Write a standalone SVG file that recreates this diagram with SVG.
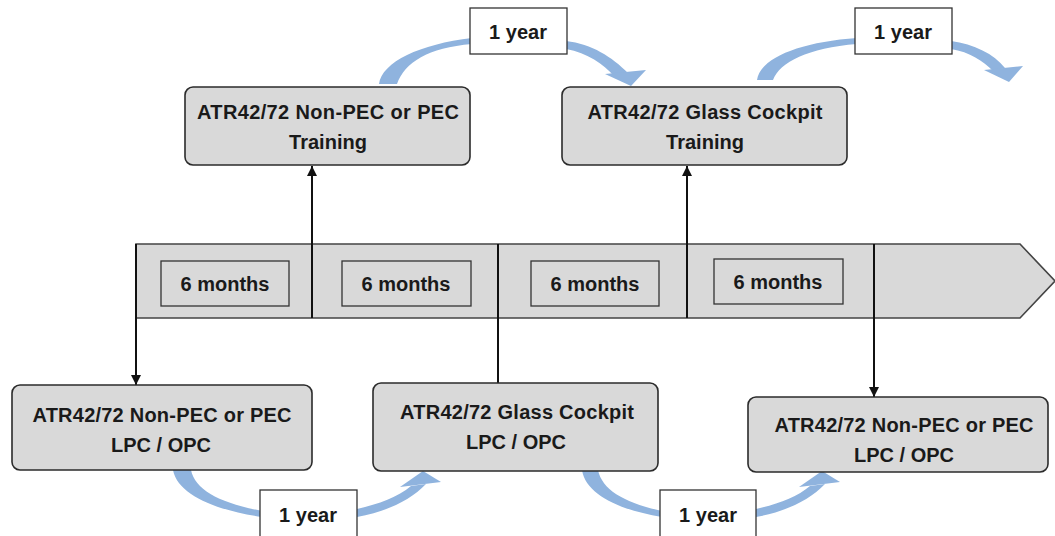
<svg xmlns="http://www.w3.org/2000/svg" width="1055" height="536" viewBox="0 0 1055 536">
<defs>
<style>
.t{font-family:"Liberation Sans",Arial,sans-serif;font-weight:bold;font-size:20px;fill:#1a1a1a;text-anchor:middle}
.node{fill:#d9d9d9;stroke:#2b2b2b;stroke-width:1.6}
.mo{fill:#d9d9d9;stroke:#333;stroke-width:1.3}
.yr{fill:#fff;stroke:#333;stroke-width:1.3}
.cv{fill:#8fb3de}
.ln{stroke:#111;stroke-width:2;fill:none}
</style>
<marker id="ah" viewBox="0 0 10 10" refX="10" refY="5" markerWidth="10" markerHeight="10" markerUnits="userSpaceOnUse" orient="auto">
<path d="M0,0 L10,5 L0,10 Z" fill="#111"/>
</marker>
</defs>
<rect width="1055" height="536" fill="#fff"/>

<g id="curved-arrows">
<path class="cv" d="M379,84 C382,62 420,44 472,38 L472,44 C428,48 405,62 397,84 Z"/>
<path class="cv" d="M566,41 C592,44 612,57 628,73 L614,76 C603,64 588,53 566,49 Z"/>
<polygon class="cv" points="605,74 646,70 631,86"/>
<path class="cv" d="M757,80 C760,58 800,42 857,38 L857,44 C808,48 780,62 773,80 Z"/>
<path class="cv" d="M951,41 C974,44 994,54 1005,68 L993,71 C983,61 970,52 951,49 Z"/>
<polygon class="cv" points="984,70 1023,66 1009,82"/>
<path class="cv" d="M173,470 C178,495 215,510 262,517 L262,511 C220,503 195,490 191,470 Z"/>
<path class="cv" d="M357,509 C379,504 398,497 411,486 L426,484 C410,501 385,512 357,517 Z"/>
<polygon class="cv" points="400,487 423,471 441,482"/>
<path class="cv" d="M582,470 C586,495 620,510 662,517 L662,511 C625,503 602,490 598,470 Z"/>
<path class="cv" d="M756,509 C778,504 797,497 810,486 L825,484 C809,501 784,512 756,517 Z"/>
<polygon class="cv" points="799,487 822,471 840,482"/>
</g>

<g id="timeline">
<path d="M136,244 H1020 L1055,281 L1020,318 H136 Z" fill="#d9d9d9" stroke="#444" stroke-width="1.6"/>
</g>

<g id="connectors">
<line class="ln" x1="312" y1="318" x2="312" y2="166" marker-end="url(#ah)"/>
<line class="ln" x1="687" y1="318" x2="687" y2="166" marker-end="url(#ah)"/>
<line class="ln" x1="136" y1="244" x2="136" y2="385" marker-end="url(#ah)"/>
<line class="ln" x1="874" y1="244" x2="874" y2="397" marker-end="url(#ah)"/>
<line class="ln" x1="498" y1="244" x2="498" y2="383"/>
</g>

<g id="m1"><rect class="mo" x="161" y="261" width="128" height="45"/><text class="t" x="225" y="291">6 months</text></g>
<g id="m2"><rect class="mo" x="342" y="261" width="129" height="45"/><text class="t" x="406" y="291">6 months</text></g>
<g id="m3"><rect class="mo" x="531" y="261" width="128" height="45"/><text class="t" x="595" y="291">6 months</text></g>
<g id="m4"><rect class="mo" x="714" y="259" width="129" height="45"/><text class="t" x="778" y="289">6 months</text></g>

<g id="train1"><rect class="node" x="185" y="87" width="285" height="78" rx="8"/>
<text class="t" x="328" y="119" textLength="262">ATR42/72 Non-PEC or PEC</text>
<text class="t" x="328" y="149">Training</text></g>
<g id="train2"><rect class="node" x="562" y="87" width="285" height="78" rx="8"/>
<text class="t" x="705" y="119" textLength="235">ATR42/72 Glass Cockpit</text>
<text class="t" x="705" y="149">Training</text></g>

<g id="lpc1"><rect class="node" x="12" y="385" width="300" height="85" rx="8"/>
<text class="t" x="162" y="422" textLength="259">ATR42/72 Non-PEC or PEC</text>
<text class="t" x="161" y="452">LPC / OPC</text></g>
<g id="lpc2"><rect class="node" x="373" y="383" width="285" height="88" rx="8"/>
<text class="t" x="517" y="419" textLength="234">ATR42/72 Glass Cockpit</text>
<text class="t" x="516" y="449">LPC / OPC</text></g>
<g id="lpc3"><rect class="node" x="748" y="397" width="300" height="75" rx="8"/>
<text class="t" x="904" y="432" textLength="259">ATR42/72 Non-PEC or PEC</text>
<text class="t" x="904" y="462">LPC / OPC</text></g>

<g id="y1"><rect class="yr" x="470" y="8" width="97" height="46"/><text class="t" x="518" y="39">1 year</text></g>
<g id="y2"><rect class="yr" x="855" y="8" width="97" height="46"/><text class="t" x="903" y="39">1 year</text></g>
<g id="y3"><rect class="yr" x="260" y="490" width="97" height="50"/><text class="t" x="308" y="522">1 year</text></g>
<g id="y4"><rect class="yr" x="660" y="490" width="96" height="50"/><text class="t" x="708" y="522">1 year</text></g>
</svg>
